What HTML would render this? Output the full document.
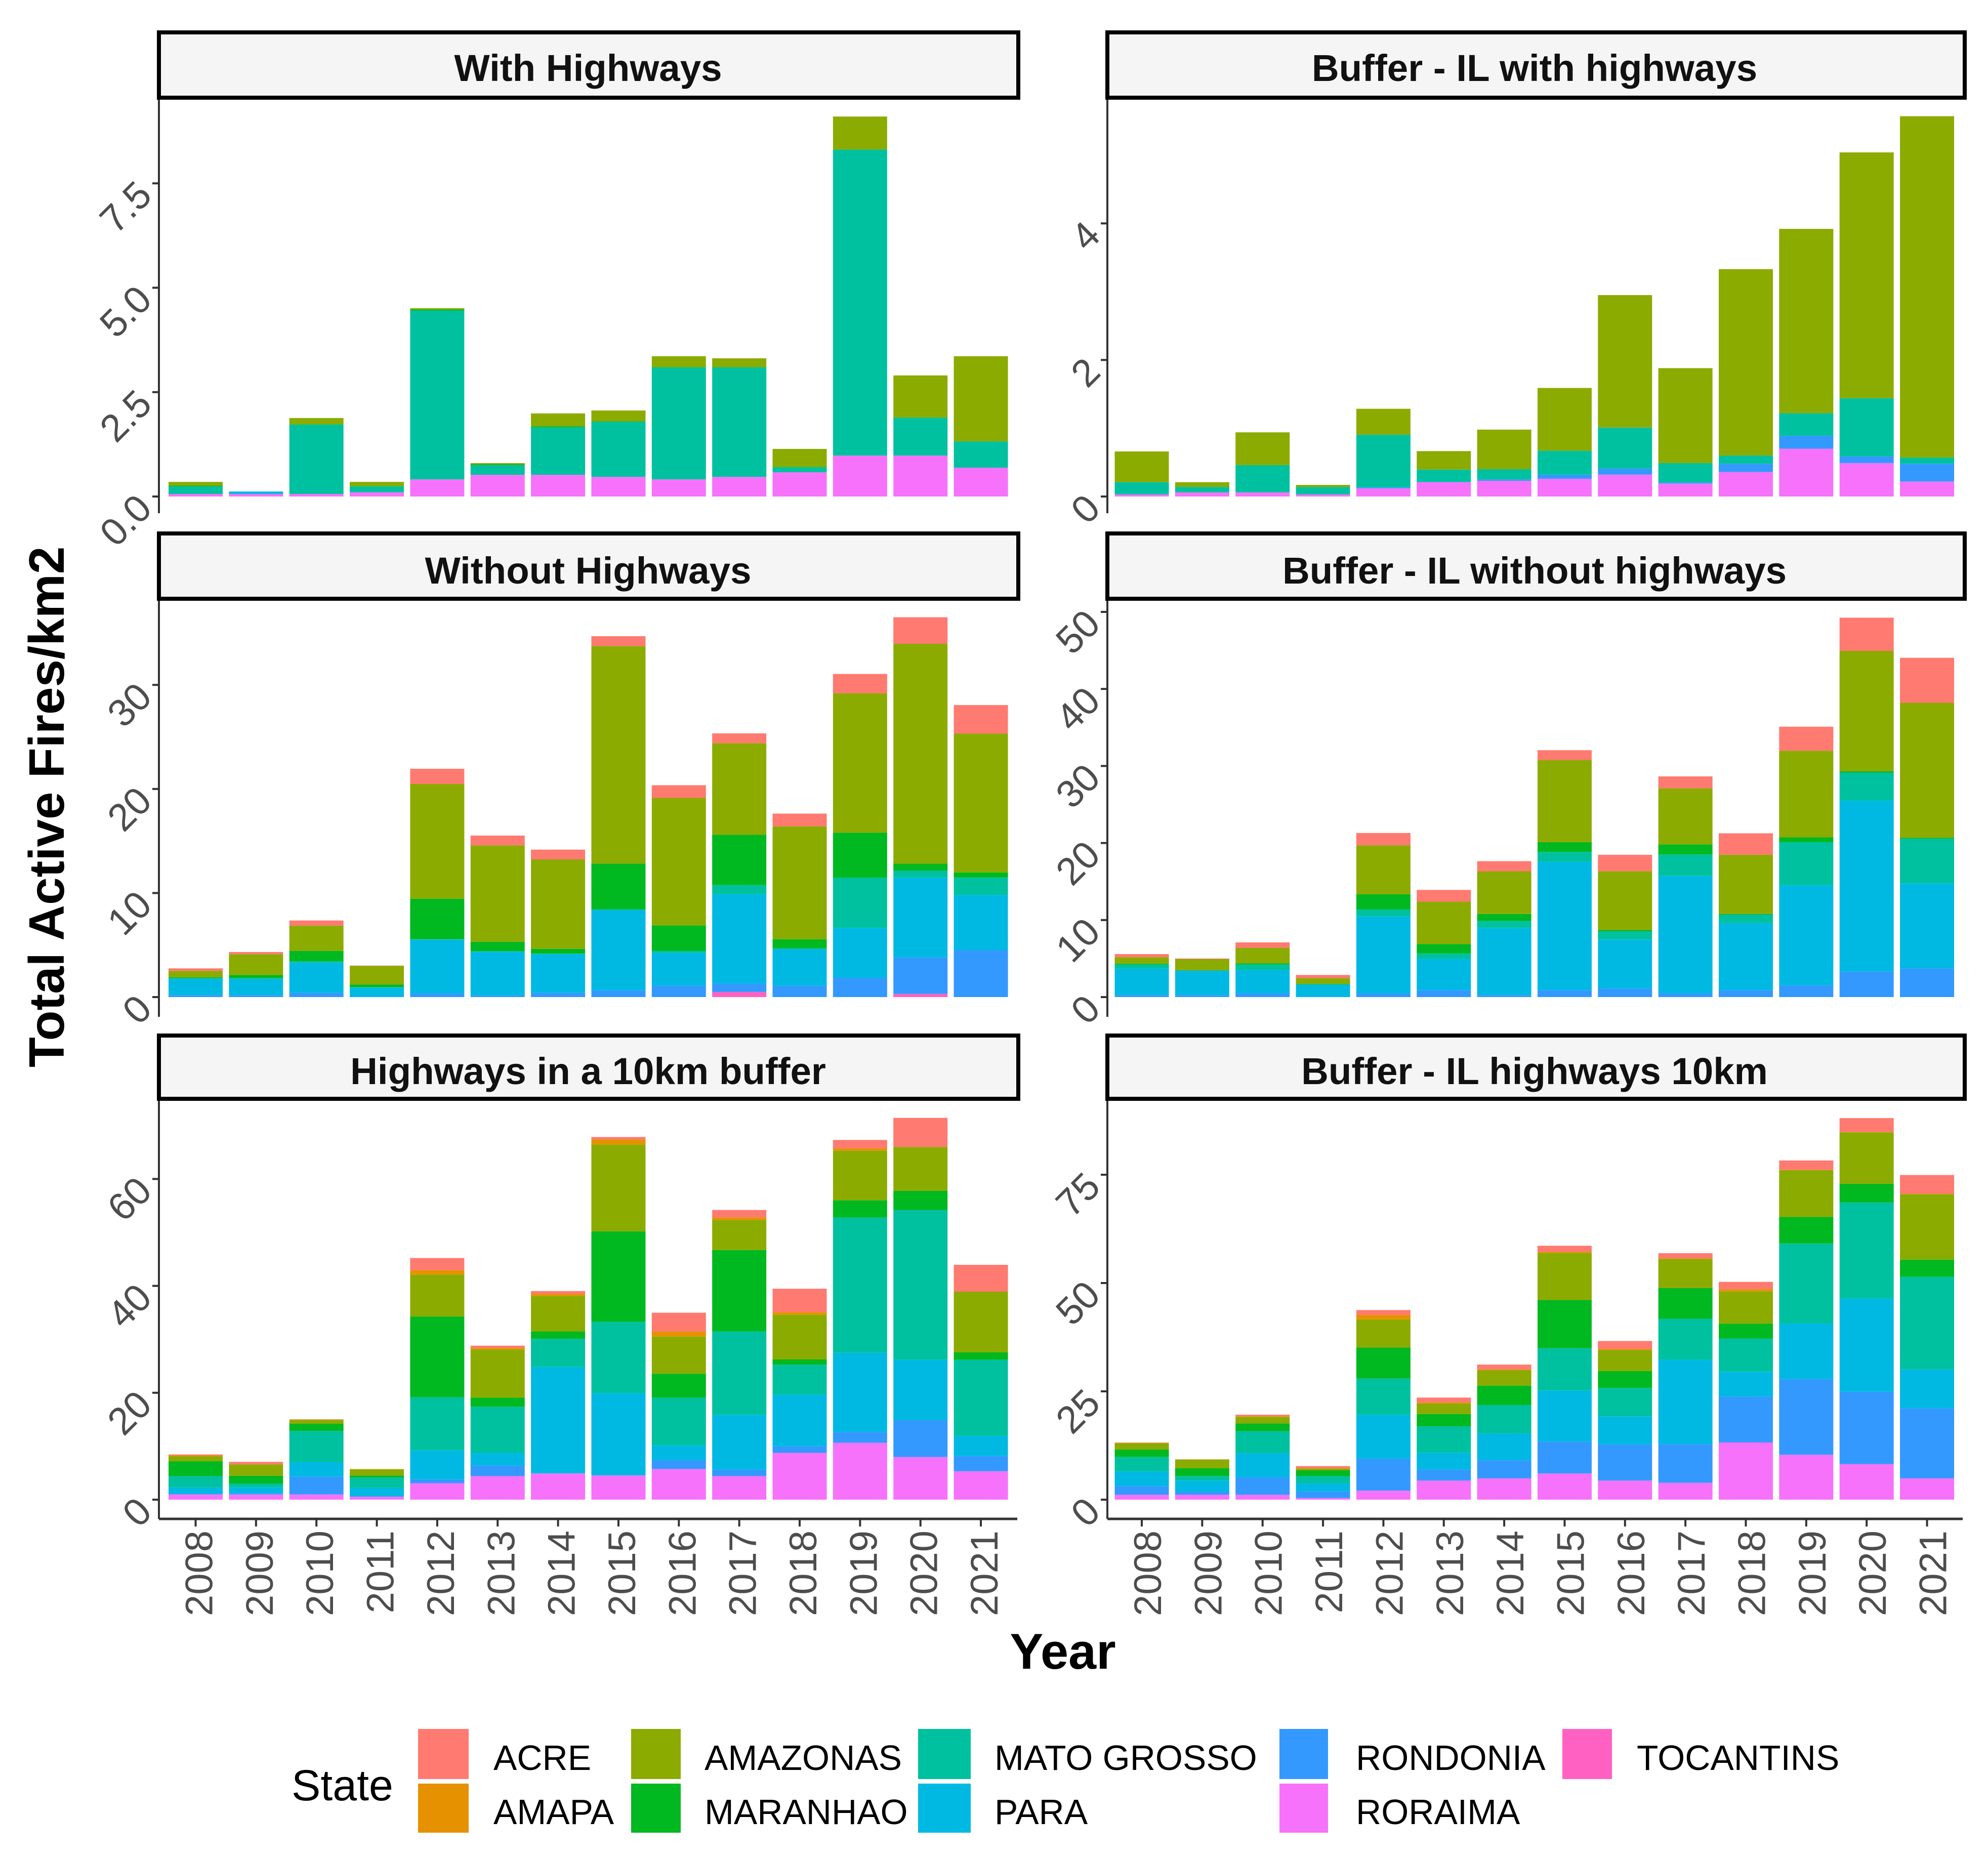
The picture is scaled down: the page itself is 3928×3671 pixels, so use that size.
<!DOCTYPE html>
<html lang="en">
<head>
<meta charset="utf-8">
<title>Total Active Fires per km2 by State and Year</title>
<style>
html,body{margin:0;padding:0;background:#fff;}
svg{display:block;font-family:"Liberation Sans",Arial,sans-serif;}
.strip{fill:#F5F5F5;stroke:#000;stroke-width:8;}
.strip-text{font-size:74.5px;font-weight:bold;fill:#111;text-anchor:middle;}
.tick-label{font-size:76px;fill:#4D4D4D;}
.legend-text{font-size:69.5px;fill:#000;}
</style>
</head>
<body>
<svg id="chart" xmlns="http://www.w3.org/2000/svg" width="3928" height="3671" viewBox="0 0 3928 3671">
  <rect x="0" y="0" width="3928" height="3671" fill="#fff"/>
  <g id="panels"></g>

  <rect class="strip" x="314" y="64" width="1698" height="129"/>
  <text class="strip-text" x="1162" y="160">With Highways</text>
  <rect class="strip" x="2188" y="64" width="1694" height="129"/>
  <text class="strip-text" x="3032" y="160">Buffer - IL with highways</text>
  <rect class="strip" x="314" y="1054" width="1698" height="129"/>
  <text class="strip-text" x="1162" y="1153">Without Highways</text>
  <rect class="strip" x="2188" y="1054" width="1694" height="129"/>
  <text class="strip-text" x="3032" y="1153">Buffer - IL without highways</text>
  <rect class="strip" x="314" y="2046" width="1698" height="125"/>
  <text class="strip-text" x="1162" y="2142">Highways in a 10km buffer</text>
  <rect class="strip" x="2188" y="2046" width="1694" height="125"/>
  <text class="strip-text" x="3032" y="2142">Buffer - IL highways 10km</text>

  <text transform="translate(126,2109) rotate(-90)" font-size="98" font-weight="bold" fill="#000">Total Active Fires/km2</text>
  <text x="2100" y="3297" font-size="99" font-weight="bold" fill="#000" text-anchor="middle">Year</text>

  <g>
    <text x="576" y="3557" font-size="86" fill="#000">State</text>
    <rect x="826" y="3416" width="100" height="99" fill="#FF7A70"/>
    <text class="legend-text" x="975" y="3497">ACRE</text>
    <rect x="826" y="3524" width="100" height="97" fill="#E69200"/>
    <text class="legend-text" x="975" y="3604">AMAPA</text>
    <rect x="1247" y="3416" width="98" height="99" fill="#8CAB00"/>
    <text class="legend-text" x="1392" y="3497">AMAZONAS</text>
    <rect x="1247" y="3524" width="98" height="97" fill="#00B81F"/>
    <text class="legend-text" x="1392" y="3604">MARANHAO</text>
    <rect x="1814" y="3416" width="104" height="99" fill="#00C19F"/>
    <text class="legend-text" x="1965" y="3497">MATO GROSSO</text>
    <rect x="1814" y="3524" width="104" height="97" fill="#00B9E3"/>
    <text class="legend-text" x="1965" y="3604">PARA</text>
    <rect x="2528" y="3416" width="96" height="99" fill="#3399FF"/>
    <text class="legend-text" x="2679" y="3497">RONDONIA</text>
    <rect x="2528" y="3524" width="96" height="97" fill="#F672FA"/>
    <text class="legend-text" x="2679" y="3604">RORAIMA</text>
    <rect x="3087" y="3416" width="98" height="99" fill="#FF61C3"/>
    <text class="legend-text" x="3234" y="3497">TOCANTINS</text>
  </g>
</svg>
<script>
const years = [2008,2009,2010,2011,2012,2013,2014,2015,2016,2017,2018,2019,2020,2021];

const stateColors = {TOCANTINS:'#FF61C3',RORAIMA:'#F672FA',RONDONIA:'#3399FF',PARA:'#00B9E3','MATO GROSSO':'#00C19F',MARANHAO:'#00B81F',AMAZONAS:'#8CAB00',AMAPA:'#E69200',ACRE:'#FF7A70'};

// With Highways
const withRoraima = [.06,.06,.06,.10,.41,.52,.52,.47,.41,.47,.58,.98,.98,.69];
const withPara = [0,.06,0,0,0,0,0,0,0,0,0,0,0,0];
const withMato = [.18,0,1.66,.14,4.04,.23,1.14,1.32,2.68,2.62,.12,7.33,.91,.63];
const withMaranhao = [.02,0,.01,.01,.03,.02,.02,.01,.01,.01,.01,0,0,0];
const withAmazonas = [.09,0,.15,.10,.03,.03,.31,.26,.26,.21,.43,.79,1.01,2.04];
const withTicks = [0,2.5,5,7.5];
const withTickLabels = ['0.0','2.5','5.0','7.5'];

// Buffer - IL with highways
const bufWithRoraima = [.03,.06,.06,.03,.12,.21,.23,.26,.32,.19,.36,.70,.49,.22];
const bufWithRondonia = [0,0,0,0,.015,.005,.02,.06,.09,.015,.12,.19,.10,.26];
const bufWithMato = [.18,.08,.40,.11,.77,.18,.15,.35,.60,.285,.12,.33,.85,.09];
const bufWithAmazonas = [.45,.07,.48,.03,.38,.27,.58,.92,1.94,1.39,2.73,2.70,3.60,5.00];
const bufWithTicks = [0,2,4];
const bufWithTickLabels = ['0','2','4'];

// Without Highways
const withoutTocantins = [0,0,0,0,0,0,0,0,0,.49,0,0,.30,0];
const withoutRondonia = [.18,.18,.40,0,.36,.15,.40,.64,1.09,.82,1.09,1.85,3.50,4.50];
const withoutPara = [1.58,1.58,2.89,.91,5.17,4.22,3.74,7.75,3.16,8.57,3.53,4.80,7.69,5.32];
const withoutMato = [.06,.06,.15,.06,.03,.03,.03,.03,.18,.88,.06,4.83,.67,1.67];
const withoutMaranhao = [.09,.30,1.0,.24,3.89,.91,.46,4.41,2.46,4.83,.88,4.32,.67,.49];
const withoutAmazonas = [.61,2.0,2.43,1.79,11.03,9.27,8.60,20.91,12.25,8.81,10.85,13.40,21.12,13.34];
const withoutAcre = [.24,.21,.49,.03,1.46,.94,.94,.94,1.22,.94,1.22,1.85,2.55,2.74];
const withoutTicks = [0,10,20,30];
const withoutTickLabels = ['0','10','20','30'];

// Buffer - IL without highways
const bufWithoutRondonia = [.25,.25,.49,0,.49,.90,.25,.90,1.11,.49,.90,1.52,3.33,3.69];
const bufWithoutPara = [3.45,3.16,3.0,1.60,9.98,4.06,8.70,16.67,6.36,15.23,8.70,13.01,22.2,11.08];
const bufWithoutMato = [.53,.04,.74,.04,.90,.70,.94,1.27,1.07,2.79,1.11,5.58,3.61,5.79];
const bufWithoutMaranhao = [.12,.04,.16,.08,1.97,1.23,.90,1.27,.16,1.31,.08,.62,.16,.12];
const bufWithoutAmazonas = [.82,1.44,2.01,.74,6.36,5.50,5.54,10.67,7.64,7.27,7.68,11.25,15.64,17.53];
const bufWithoutAcre = [.41,.08,.70,.41,1.60,1.52,1.31,1.27,2.13,1.56,2.79,3.12,4.31,5.83];
const bufWithoutTicks = [0,10,20,30,40,50];
const bufWithoutTickLabels = ['0','10','20','30','40','50'];

// Highways in a 10km buffer
const tenRoraima = [.97,.97,.97,.54,3.08,4.41,4.89,4.53,5.74,4.41,8.76,10.63,7.98,5.32];
const tenRondonia = [.12,.18,3.32,.12,.73,1.99,.06,.06,1.69,1.21,1.21,2.05,6.89,2.84];
const tenPara = [1.21,1.15,2.72,1.57,5.44,2.36,19.88,15.35,2.72,10.27,9.67,14.8,11.3,3.81];
const tenMato = [2.11,.73,5.86,1.93,9.91,8.64,5.26,13.35,8.94,15.59,5.62,25.32,28.04,14.2];
const tenMaranhao = [2.78,1.45,1.33,.36,15.11,1.69,1.39,16.92,4.47,15.23,.97,3.2,3.56,1.39];
const tenAmazonas = [.91,2.11,.73,1.15,7.85,9.0,6.65,16.25,6.95,5.62,8.40,9.31,8.22,11.36];
const tenAmapa = [.18,.06,.06,.06,.85,.30,.36,.91,.97,.48,.48,.42,0,0];
const tenAcre = [.18,.42,.06,0,2.24,.42,.54,.48,3.50,1.39,4.35,1.57,5.44,5.02];
const tenTicks = [0,20,40,60];
const tenTickLabels = ['0','20','40','60'];

// Buffer - IL highways 10km
const bufTenRoraima = [1.12,1.12,1.12,.37,2.09,4.40,4.92,6.04,4.40,3.88,13.2,10.37,8.2,4.92];
const bufTenRondonia = [2.01,.75,4.03,1.57,7.38,2.54,4.18,7.38,8.35,8.95,10.59,17.45,16.7,16.18];
const bufTenPara = [3.43,2.54,5.59,1.86,10.14,3.88,6.19,11.78,6.49,19.46,5.74,12.83,21.55,8.95];
const bufTenMato = [3.28,1.04,5.07,1.64,8.35,6.11,6.56,9.77,6.56,9.47,7.68,18.49,22.15,21.4];
const bufTenMaranhao = [1.72,1.79,1.79,1.34,7.16,2.83,4.47,11.11,3.88,7.08,3.43,6.11,4.33,3.95];
const bufTenAmazonas = [1.49,2.01,1.49,.37,6.49,2.46,3.58,10.89,4.85,6.71,7.46,10.81,11.86,15.14];
const bufTenAmapa = [.07,.07,.15,.15,1.04,.22,.15,.22,.22,.15,.45,.07,.07,.07];
const bufTenAcre = [.07,0,.37,.45,1.12,1.12,1.12,1.42,1.86,1.19,1.72,2.16,3.21,4.33];
const bufTenTicks = [0,25,50,75];
const bufTenTickLabels = ['0','25','50','75'];

const panels = [
  {key:'with-highways',left:314,first:386.5,base:981,pxPerUnit:82.5,axisTop:194,axisBottom:1014,axisWidth:1696,labelOffset:33,ticks:withTicks,labels:withTickLabels,xAxis:false,
   series:[['RORAIMA',withRoraima],['PARA',withPara],['MATO GROSSO',withMato],['MARANHAO',withMaranhao],['AMAZONAS',withAmazonas]]},
  {key:'buffer-with-highways',left:2188,first:2256,base:981,pxPerUnit:134.9,axisTop:194,axisBottom:1014,axisWidth:1690,labelOffset:38,ticks:bufWithTicks,labels:bufWithTickLabels,xAxis:false,
   series:[['RORAIMA',bufWithRoraima],['RONDONIA',bufWithRondonia],['MATO GROSSO',bufWithMato],['AMAZONAS',bufWithAmazonas]]},
  {key:'without-highways',left:314,first:386.5,base:1970,pxPerUnit:20.56,axisTop:1184,axisBottom:2009,axisWidth:1696,labelOffset:33,ticks:withoutTicks,labels:withoutTickLabels,xAxis:false,
   series:[['TOCANTINS',withoutTocantins],['RONDONIA',withoutRondonia],['PARA',withoutPara],['MATO GROSSO',withoutMato],['MARANHAO',withoutMaranhao],['AMAZONAS',withoutAmazonas],['ACRE',withoutAcre]]},
  {key:'buffer-without-highways',left:2188,first:2256,base:1970,pxPerUnit:15.22,axisTop:1184,axisBottom:2009,axisWidth:1690,labelOffset:38,ticks:bufWithoutTicks,labels:bufWithoutTickLabels,xAxis:false,
   series:[['RONDONIA',bufWithoutRondonia],['PARA',bufWithoutPara],['MATO GROSSO',bufWithoutMato],['MARANHAO',bufWithoutMaranhao],['AMAZONAS',bufWithoutAmazonas],['ACRE',bufWithoutAcre]]},
  {key:'highways-10km',left:314,first:386.5,base:2963,pxPerUnit:10.56,axisTop:2172,axisBottom:3001,axisWidth:1696,labelOffset:33,ticks:tenTicks,labels:tenTickLabels,xAxis:true,
   series:[['RORAIMA',tenRoraima],['RONDONIA',tenRondonia],['PARA',tenPara],['MATO GROSSO',tenMato],['MARANHAO',tenMaranhao],['AMAZONAS',tenAmazonas],['AMAPA',tenAmapa],['ACRE',tenAcre]]},
  {key:'buffer-highways-10km',left:2188,first:2256,base:2963,pxPerUnit:8.56,axisTop:2172,axisBottom:3001,axisWidth:1690,labelOffset:38,ticks:bufTenTicks,labels:bufTenTickLabels,xAxis:true,
   series:[['RORAIMA',bufTenRoraima],['RONDONIA',bufTenRondonia],['PARA',bufTenPara],['MATO GROSSO',bufTenMato],['MARANHAO',bufTenMaranhao],['AMAZONAS',bufTenAmazonas],['AMAPA',bufTenAmapa],['ACRE',bufTenAcre]]}
];

const NS = 'http://www.w3.org/2000/svg';
const BAR_PITCH = 119.35;
const BAR_WIDTH = 107;
const AXIS_COLOR = '#333333';

function make(parent, tag, attrs) {
  const node = document.createElementNS(NS, tag);
  Object.keys(attrs).forEach(function (k) { node.setAttribute(k, attrs[k]); });
  parent.appendChild(node);
  return node;
}
function xScale(panel, index) { return panel.first + index * BAR_PITCH; }
function yScale(panel, value) { return panel.base - value * panel.pxPerUnit; }

const root = document.getElementById('panels');
panels.forEach(function (panel) {
  const g = make(root, 'g', {});
  
  

  years.forEach(function (year, i) {
    let stack = 0;
    panel.series.forEach(function (entry) {
      const state = entry[0];
      const value = entry[1][i];
      if (!value) return;
      const top = yScale(panel, stack + value);
      const bottom = yScale(panel, stack);
      const seg = make(g, 'rect', {x: xScale(panel, i) - BAR_WIDTH / 2, y: top, width: BAR_WIDTH, height: bottom - top, fill: stateColors[state]});
      
      
      stack += value;
    });
  });

  const yAxis = make(g, 'line', {x1: panel.left, x2: panel.left, y1: panel.axisTop, y2: panel.axisBottom, stroke: AXIS_COLOR, 'stroke-width': 4});
  
  

  panel.ticks.forEach(function (tick, i) {
    const ty = yScale(panel, tick);
    const mark = make(g, 'line', {x1: panel.left - 13, x2: panel.left, y1: ty, y2: ty, stroke: AXIS_COLOR, 'stroke-width': 4});
    
    
    const label = make(g, 'text', {'class': 'tick-label', 'text-anchor': 'end', transform: 'translate(' + (panel.left - 10) + ',' + (ty + 28) + ') rotate(-45)'});
    label.textContent = panel.labels[i];
    
    
  });

  if (panel.xAxis) {
    const axis = make(g, 'line', {x1: panel.left, x2: panel.left + panel.axisWidth, y1: panel.axisBottom, y2: panel.axisBottom, stroke: AXIS_COLOR, 'stroke-width': 5});
    
    
    years.forEach(function (year, i) {
      const tx = xScale(panel, i);
      const mark = make(g, 'line', {x1: tx, x2: tx, y1: panel.axisBottom, y2: panel.axisBottom + 15, stroke: AXIS_COLOR, 'stroke-width': 4});
      
      
      const label = make(g, 'text', {'class': 'tick-label', 'text-anchor': 'end', transform: 'translate(' + (tx + panel.labelOffset) + ',' + (panel.axisBottom + 23) + ') rotate(-90)'});
      label.textContent = String(year);
      
      
    });
  }
});
</script>
</body>
</html>
